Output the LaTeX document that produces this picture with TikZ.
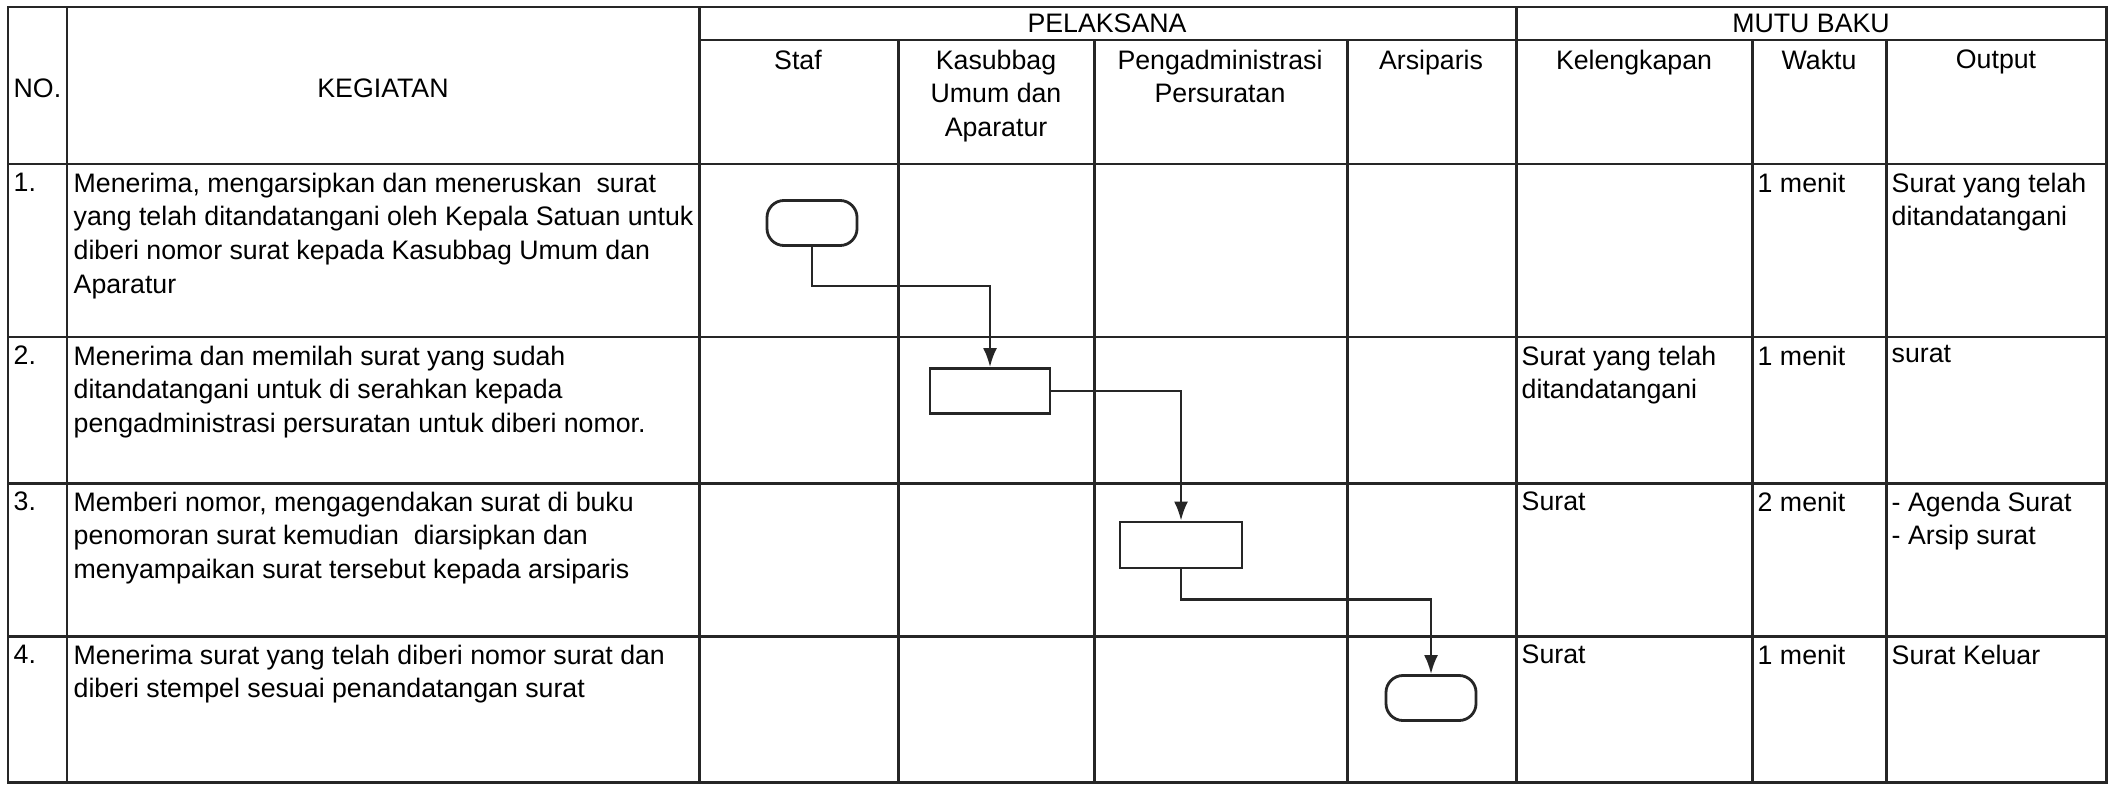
\documentclass[tikz,border=0pt]{standalone}
\usepackage{fontspec}
\setmainfont{Liberation Sans}
\usetikzlibrary{positioning,arrows.meta}
\tikzstyle{garis} = [draw, line width=0.85pt, black!85]
\tikzstyle{terminal} = [rectangle, draw, black!85, line width=0.8pt, rounded corners=0.17cm, %
   minimum width=0.9cm, minimum height=0.45cm]
\tikzstyle{proses} = [rectangle, draw, black!85, line width=0.8pt, %
   minimum width=1.2cm, minimum height=0.45cm]
\tikzstyle{judul} = [inner sep=0pt, align=center]
\tikzstyle{isi} = [anchor=north west, inner sep=0pt, align=left]
\tikzstyle{line} = [draw, line width=0.7pt, black!85, -{Latex[length=1.9mm,width=1.4mm]}]

\begin{document}
\begin{tikzpicture}[x=0.01cm, y=-0.01cm, font=\fontsize{7.6}{9.6}\selectfont]
   \useasboundingbox (0,0) rectangle (2110,785);

   % Garis tabel %%%%%%%%%%%%%%%%%%%%%%%%%%%%%%%%%%%%%%%%%%%%%%%%%%%%%%
      \draw[garis] (8,7) rectangle (2106,782);
      \draw[garis] (699,40) -- (2106,40);
      \draw[garis] (8,164) -- (2106,164);
      \draw[garis] (8,337) -- (2106,337);
      \draw[garis] (8,483) -- (2106,483);
      \draw[garis] (8,636) -- (2106,636);
      \draw[garis] (67,7) -- (67,782);
      \draw[garis] (699,7) -- (699,782);
      \draw[garis] (1516,7) -- (1516,782);
      \draw[garis] (898,40) -- (898,782);
      \draw[garis] (1094,40) -- (1094,782);
      \draw[garis] (1347,40) -- (1347,782);
      \draw[garis] (1752,40) -- (1752,782);
      \draw[garis] (1886,40) -- (1886,782);

   % Kepala tabel %%%%%%%%%%%%%%%%%%%%%%%%%%%%%%%%%%%%%%%%%%%%%%%%%%%%%
      \node[judul, anchor=west] (No) at (13,88) {NO.};
      \node[judul] (Kegiatan) at (383,88) {KEGIATAN};
      \node[judul] (Pelaksana) at (1107,23) {PELAKSANA};
      \node[judul] (MutuBaku) at (1811,23) {MUTU BAKU};

      \node[judul, anchor=north] (Staf) at (798,49) {Staf};
      \node[judul, anchor=north] (Kasubbag) at (996,49) {Kasubbag\\Umum dan\\Aparatur};
      \node[judul, anchor=north] (Pengadm) at (1220,49) {Pengadministrasi\\Persuratan};
      \node[judul, anchor=north] (Arsiparis) at (1431,49) {Arsiparis};
      \node[judul, anchor=north] (Kelengkapan) at (1634,49) {Kelengkapan};
      \node[judul, anchor=north] (Waktu) at (1819,49) {Waktu};
      \node[judul, anchor=north] (Output) at (1996,49) {Output};

   % Isi baris %%%%%%%%%%%%%%%%%%%%%%%%%%%%%%%%%%%%%%%%%%%%%%%%%%%%%%%%
      \node[isi] (No1) at (13,172) {1.};
      \node[isi] (Keg1) at (73,172) {%
         Menerima, mengarsipkan dan meneruskan~ surat\\yang telah ditandatangani oleh Kepala Satuan untuk\\diberi nomor surat kepada Kasubbag Umum dan\\Aparatur};
      \node[isi] (Waktu1) at (1757,172) {1 menit};
      \node[isi] (Output1) at (1891,172) {Surat yang telah\\ditandatangani};

      \node[isi] (No2) at (13,345) {2.};
      \node[isi] (Keg2) at (73,345) {%
         Menerima dan memilah surat yang sudah\\ditandatangani untuk di serahkan kepada\\pengadministrasi persuratan untuk diberi nomor.};
      \node[isi] (Kel2) at (1521,345) {Surat yang telah\\ditandatangani};
      \node[isi] (Waktu2) at (1757,345) {1 menit};
      \node[isi] (Output2) at (1891,345) {surat};

      \node[isi] (No3) at (13,491) {3.};
      \node[isi] (Keg3) at (73,491) {%
         Memberi nomor, mengagendakan surat di buku\\penomoran surat kemudian~ diarsipkan dan\\menyampaikan surat tersebut kepada arsiparis};
      \node[isi] (Kel3) at (1521,491) {Surat};
      \node[isi] (Waktu3) at (1757,491) {2 menit};
      \node[isi] (Output3) at (1891,491) {- Agenda Surat\\- Arsip surat};

      \node[isi] (No4) at (13,644) {4.};
      \node[isi] (Keg4) at (73,644) {%
         Menerima surat yang telah diberi nomor surat dan\\diberi stempel sesuai penandatangan surat};
      \node[isi] (Kel4) at (1521,644) {Surat};
      \node[isi] (Waktu4) at (1757,644) {1 menit};
      \node[isi] (Output4) at (1891,644) {Surat Keluar};

   % Alur %%%%%%%%%%%%%%%%%%%%%%%%%%%%%%%%%%%%%%%%%%%%%%%%%%%%%%%%%%%%
      \node[terminal] (Terima) at (812,223) {};
      \node[proses] (Pilah) at (990,391) {};
      \node[proses, minimum width=1.22cm, minimum height=0.46cm] (Nomor) at (1181,545) {};
      \node[terminal] (Stempel) at (1431,698) {};

      % Draw edges
      \path [line] (Terima.south) -- ++(0,39) -| (Pilah.north);
      \path [line] (Pilah.east) -| (Nomor.north);
      \path [line] (Nomor.south) -- ++(0,30) -| (Stempel.north);
\end{tikzpicture}
\end{document}
